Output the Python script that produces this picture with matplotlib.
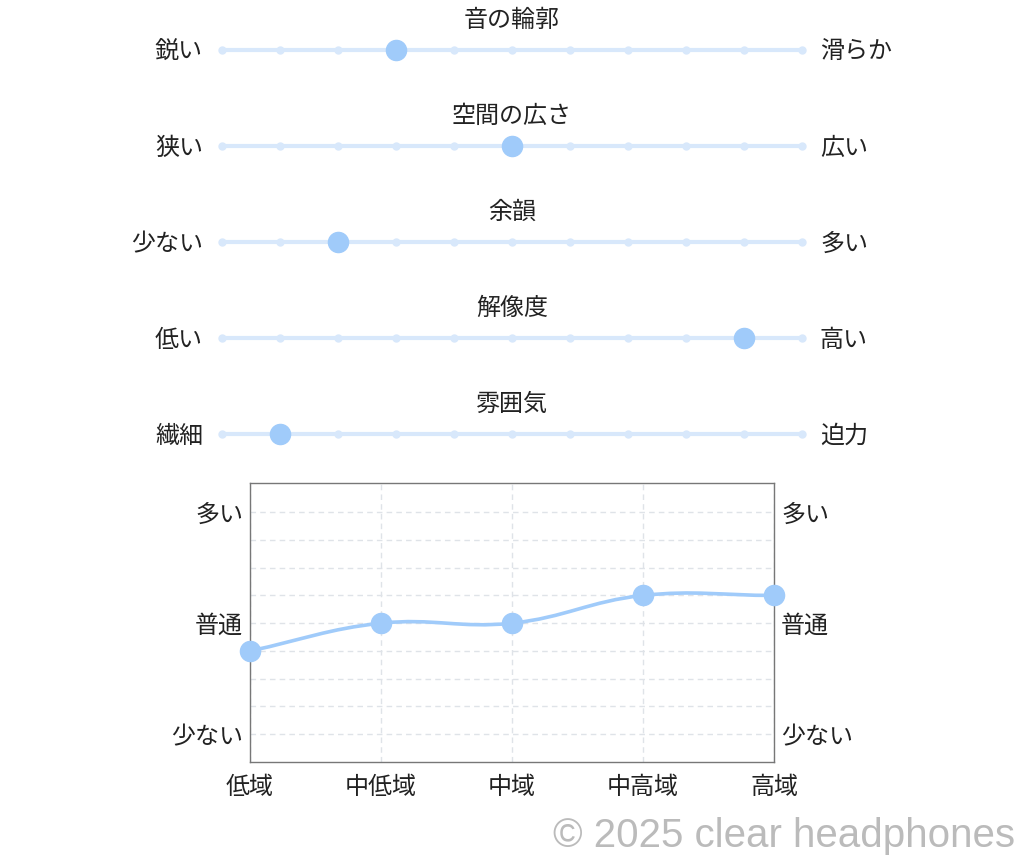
import numpy as np
import matplotlib
matplotlib.use("Agg")
import matplotlib.pyplot as plt
from matplotlib.path import Path
from matplotlib.patches import PathPatch

plt.rcParams['font.family'] = ['Noto Sans CJK JP', 'DejaVu Sans']

# ---- data ----
slider_titles = ["音の輪郭", "空間の広さ", "余韻", "解像度", "雰囲気"]
slider_left = ["鋭い", "狭い", "少ない", "低い", "繊細"]
slider_right = ["滑らか", "広い", "多い", "高い", "迫力"]
slider_values = [3, 5, 2, 9, 1]
slider_steps = 10

freq_labels = ["低域", "中低域", "中域", "中高域", "高域"]
freq_values = [3, 4, 4, 5, 5]
level_ticks = [0, 4, 8]
level_labels = ["少ない", "普通", "多い"]

TRACK = "#d8e8fb"
MARK = "#a0cbfa"
TXT = "#222222"
FS = 17.3
W, H = 1024, 864

fig = plt.figure(figsize=(W / 100, H / 100), dpi=100)

# ---- sliders ----
axs = fig.add_axes([222 / W, (H - 470) / H, 580 / W, 470 / H])
axs.set_xlim(0, slider_steps)
axs.set_ylim(470, 0)
axs.axis('off')
for i, (t, l, r, v) in enumerate(zip(slider_titles, slider_left, slider_right, slider_values)):
    y = 50 + 96 * i
    xs = np.arange(slider_steps + 1)
    axs.plot([0, slider_steps], [y, y], color=TRACK, lw=3, solid_capstyle='round', zorder=1, clip_on=False)
    axs.plot(xs, [y] * len(xs), 'o', color=TRACK, ms=5, zorder=2, clip_on=False)
    axs.plot([v], [y], 'o', color=MARK, ms=14.5, zorder=3, clip_on=False)
    axs.text(slider_steps / 2, y - 30, t, ha='center', va='center', fontsize=FS, color=TXT)
    axs.text(-0.33, y + 2, l, ha='right', va='center', fontsize=FS, color=TXT)
    axs.text(slider_steps + 0.31, y + 2, r, ha='left', va='center', fontsize=FS, color=TXT)

# ---- frequency chart ----
ax = fig.add_axes([250 / W, (H - 762) / H, 524 / W, 279 / H])
ax.set_xlim(0, len(freq_labels) - 1)
ax.set_ylim(-1, 9.05)
ax.set_xticks(range(len(freq_labels)))
ax.set_xticklabels(freq_labels, fontsize=FS, color=TXT)
ax.set_yticks(level_ticks)
ax.set_yticklabels(level_labels, fontsize=FS, color=TXT)
ax.set_yticks(range(0, 9), minor=True)
ax.tick_params(axis='both', which='both', length=0)
ax.tick_params(axis='x', pad=9)
ax.tick_params(axis='y', which='both', pad=5, right=True, labelright=True, left=True, labelleft=True)
ax.grid(True, which='both', axis='y', color='#dfe3e8', ls=(0, (4, 3)), lw=1)
ax.grid(True, which='major', axis='x', color='#dfe3e8', ls=(0, (4, 3)), lw=1)
for s in ax.spines.values():
    s.set_color('#777777')
    s.set_linewidth(1)

# smooth curve (Chart.js-style bezier, tension 0.4) in display space
xs = np.arange(len(freq_values), dtype=float)
ys = np.array(freq_values, dtype=float)
pts = ax.transData.transform(np.column_stack([xs, ys]))
n = len(pts)
tension = 0.4
cps_prev, cps_next = [], []
for i in range(n):
    p0 = pts[max(i - 1, 0)]
    p1 = pts[i]
    p2 = pts[min(i + 1, n - 1)]
    d01 = np.hypot(*(p1 - p0))
    d12 = np.hypot(*(p2 - p1))
    tot = d01 + d12
    s01 = d01 / tot if tot else 0
    s12 = d12 / tot if tot else 0
    cps_prev.append(p1 - tension * s01 * (p2 - p0))
    cps_next.append(p1 + tension * s12 * (p2 - p0))
verts = [pts[0]]
codes = [Path.MOVETO]
for i in range(n - 1):
    verts += [cps_next[i], cps_prev[i + 1], pts[i + 1]]
    codes += [Path.CURVE4] * 3
inv = ax.transData.inverted()
verts_data = inv.transform(np.array(verts))
patch = PathPatch(Path(verts_data, codes), fill=False, edgecolor=MARK, lw=2.6, zorder=3, clip_on=False)
ax.add_patch(patch)
ax.plot(xs, ys, 'o', color=MARK, ms=14.5, zorder=4, clip_on=False)

fig.text(1015 / W, 1 - 847 / H, "© 2025 clear headphones", ha='right', va='baseline',
         fontsize=29, color='#bbbbbb', family=['Liberation Sans', 'DejaVu Sans'])

fig.savefig("out.png", dpi=100)
